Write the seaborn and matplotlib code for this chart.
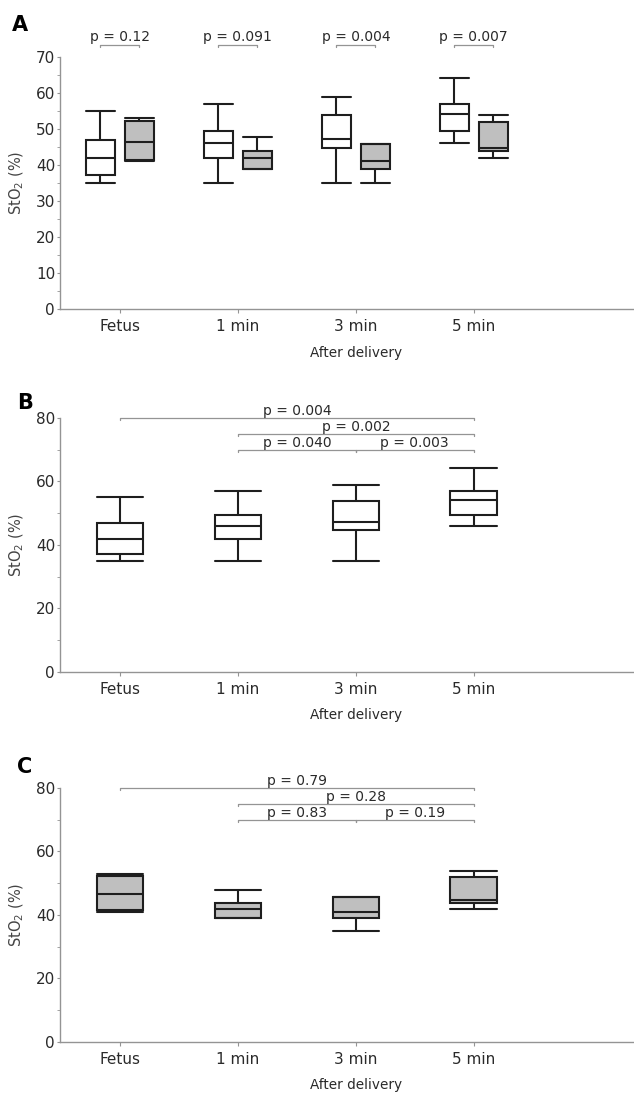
import matplotlib
matplotlib.use('Agg')
import numpy as np
import pandas as pd
import matplotlib.pyplot as plt
from matplotlib.ticker import MultipleLocator
import seaborn as sns

sns.set_style("ticks")
plt.rcParams['font.family'] = ['DejaVu Sans']

# Datos (resumen de cinco numeros)
timepoints = ['Fetus', '1 min', '3 min', '5 min']

white_min = [35, 35, 35, 46]
white_q1 = [37.2, 42, 44.6, 49.3]
white_med = [42, 46, 47.2, 54.2]
white_q3 = [46.8, 49.3, 54, 57]
white_max = [55, 57, 59, 64.1]

grey_min = [41, 39, 35, 42]
grey_q1 = [41.5, 39, 39, 43.8]
grey_med = [46.5, 41.8, 41, 44.8]
grey_q3 = [52.3, 43.8, 45.8, 51.8]
grey_max = [53, 47.8, 45.8, 53.8]

p_between = ['0.12', '0.091', '0.004', '0.007']
p_white = ['0.004', '0.002', '0.040', '0.003']
p_grey = ['0.79', '0.28', '0.83', '0.19']
# (desde, hasta, nivel) para los corchetes de B y C
pairs = [(0, 3, 80), (1, 3, 75), (1, 2, 70), (2, 3, 70)]

GREY = '#bfbfbf'
LINE = '#1e1e1e'
SPINE = '#949494'
TXT = '#2a2a2a'


def five_num(mins, q1s, meds, q3s, maxs, group):
    rows = []
    for i, tp in enumerate(timepoints):
        for v in (mins[i], q1s[i], meds[i], q3s[i], maxs[i]):
            rows.append({'time': tp, 'group': group, 'sto2': v})
    return pd.DataFrame(rows)


df_white = five_num(white_min, white_q1, white_med, white_q3, white_max, 'white')
df_grey = five_num(grey_min, grey_q1, grey_med, grey_q3, grey_max, 'grey')
df_all = pd.concat([df_white, df_grey], ignore_index=True)


def widen_caps(ax):
    # caps a lo ancho de la caja, como en la figura original
    horiz = []
    for ln in ax.lines:
        xd, yd = np.asarray(ln.get_xdata()), np.asarray(ln.get_ydata())
        if len(xd) == 2 and yd[0] == yd[1] and abs(xd[1] - xd[0]) > 1e-9:
            horiz.append((ln, abs(xd[1] - xd[0])))
    full = max(s for _, s in horiz)
    for ln, s in horiz:
        if s < 0.75 * full:
            xd = np.asarray(ln.get_xdata())
            c = xd.mean()
            ln.set_xdata([c - full / 2, c + full / 2])


def style_axis(ax, ymax, major, minor):
    ax.set_xlim(-0.508, 4.356)
    ax.set_ylim(0, ymax)
    ax.yaxis.set_major_locator(MultipleLocator(major))
    ax.yaxis.set_minor_locator(MultipleLocator(minor))
    sns.despine(ax=ax)
    for s in ['left', 'bottom']:
        ax.spines[s].set_color(SPINE)
        ax.spines[s].set_linewidth(1.0)
    ax.tick_params(axis='y', which='major', length=2, width=0.8, color=SPINE,
                   pad=1.5, labelsize=11, labelcolor=TXT)
    ax.tick_params(axis='y', which='minor', length=2, width=0.6, color=SPINE)
    ax.tick_params(axis='x', length=3, width=0.8, color=SPINE, pad=4,
                   labelsize=11, labelcolor=TXT)
    ax.set_ylabel('StO$_2$ (%)', fontsize=10.5, color='#444444')
    ax.yaxis.set_label_coords(-0.06, 0.5)
    ax.set_xlabel('After delivery', fontsize=9.8, color=TXT, va='top')


def brackets(ax, pvals):
    for (a, b, lvl), p in zip(pairs, pvals):
        ax.plot([a, a, b, b], [lvl - 0.7, lvl, lvl, lvl - 0.7], color=SPINE,
                lw=0.9, clip_on=False)
        ax.text((a + b) / 2, lvl + 0.8, f'p = {p}', ha='center', va='baseline',
                fontsize=10, color=TXT, clip_on=False)


fig = plt.figure(figsize=(6.34, 10.93), dpi=100)
ax_a = fig.add_axes([0.0946, 0.7173, 0.905, 0.2306])
ax_b = fig.add_axes([0.0946, 0.3852, 0.905, 0.2324])
ax_c = fig.add_axes([0.0946, 0.0467, 0.905, 0.2324])

# =====================
# A. ambos grupos
# =====================
sns.boxplot(data=df_all, x='time', y='sto2', hue='group', order=timepoints,
            hue_order=['white', 'grey'], palette={'white': 'white', 'grey': GREY},
            whis=(0, 100), width=0.66, gap=0.255, linecolor=LINE, linewidth=1.5,
            saturation=1, showfliers=False, legend=False, ax=ax_a)
widen_caps(ax_a)
style_axis(ax_a, 70, 10, 5)
ax_a.xaxis.set_label_coords(0.516, -0.148)
for i, p in enumerate(p_between):
    x0, x1 = i - 0.165, i + 0.165
    ax_a.plot([x0, x0, x1, x1], [72.9, 73.3, 73.3, 72.9], color=SPINE, lw=0.9,
              clip_on=False)
    ax_a.text(i, 74.5, f'p = {p}', ha='center', va='baseline', fontsize=10,
              color=TXT, clip_on=False)

# =====================
# B. grupo blanco
# =====================
sns.boxplot(data=df_white, x='time', y='sto2', order=timepoints, color='white',
            whis=(0, 100), width=0.395, linecolor=LINE, linewidth=1.5,
            saturation=1, showfliers=False, ax=ax_b)
widen_caps(ax_b)
style_axis(ax_b, 80, 20, 10)
ax_b.xaxis.set_label_coords(0.516, -0.14)
brackets(ax_b, p_white)

# =====================
# C. grupo gris
# =====================
sns.boxplot(data=df_grey, x='time', y='sto2', order=timepoints, color=GREY,
            whis=(0, 100), width=0.395, linecolor=LINE, linewidth=1.5,
            saturation=1, showfliers=False, ax=ax_c)
widen_caps(ax_c)
style_axis(ax_c, 80, 20, 10)
ax_c.xaxis.set_label_coords(0.516, -0.14)
brackets(ax_c, p_grey)

for letter, x, y in [('A', 0.0315, 0.977), ('B', 0.039, 0.631), ('C', 0.039, 0.298)]:
    fig.text(x, y, letter, fontsize=15, fontweight='bold', ha='center',
             va='center', color='black')

fig.savefig('out.png', dpi=100)
